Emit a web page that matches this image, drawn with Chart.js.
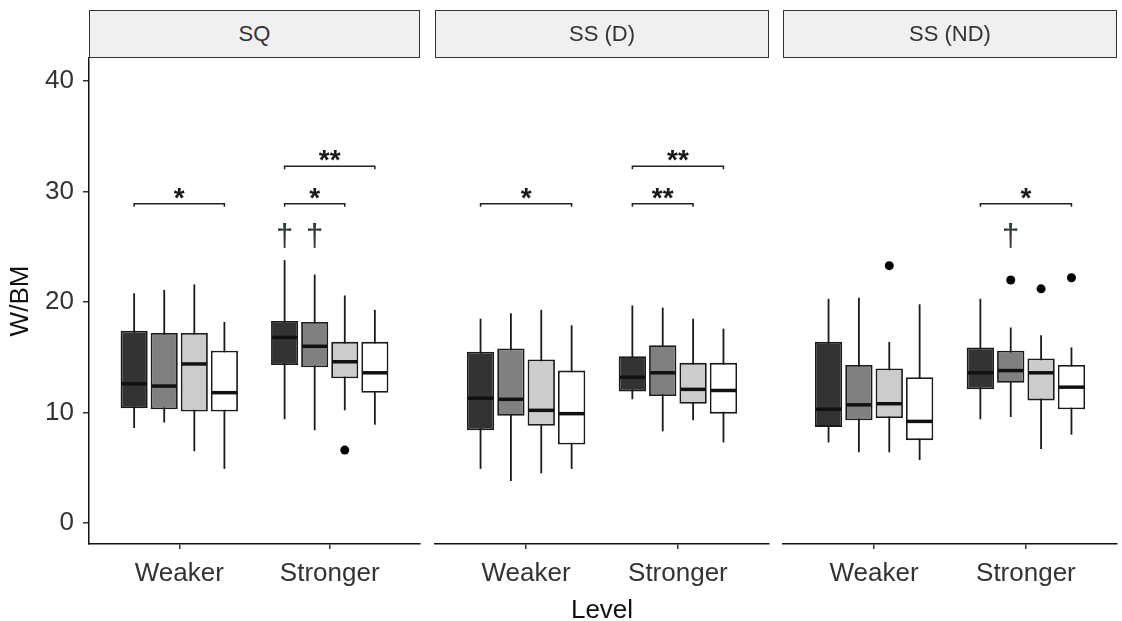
<!DOCTYPE html>
<html>
<head>
<meta charset="utf-8">
<script src="https://cdn.jsdelivr.net/npm/chart.js@4.4.1/dist/chart.umd.min.js"></script>
<style>
  body { margin: 0; background: #fff; }
  #wrap { position: relative; width: 1122px; height: 621px; overflow: hidden; }
  canvas { position: absolute; top: 0; }
  .strip {
    position: absolute; top: 10px; height: 48px; box-sizing: border-box;
    border: 1.5px solid #333; background: #f0f0f0; color: #333;
    font: 22px "Liberation Sans", Arial, sans-serif;
    display: flex; align-items: center; justify-content: center;
  }
  #xtitle {
    position: absolute; left: 435px; width: 334px; top: 596px; text-align: center;
    font: 26px/26px "Liberation Sans", Arial, sans-serif; color: #111;
  }
</style>
</head>
<body>
<div id="wrap">
  <canvas id="p0" width="430" height="621" style="left:0px"></canvas>
  <canvas id="p1" width="355" height="621" style="left:425px"></canvas>
  <canvas id="p2" width="347" height="621" style="left:775px"></canvas>
  <div class="strip" style="left:89px; width:331px">SQ</div>
  <div class="strip" style="left:435px; width:334px">SS (D)</div>
  <div class="strip" style="left:783px; width:334px">SS (ND)</div>
  <div id="xtitle">Level</div>
</div>
<script>
const levels = ['Weaker', 'Stronger'];
const yTicks = [0, 10, 20, 30, 40];
const fills = ['#333333', '#808080', '#cccccc', '#ffffff'];

// each row = one fill group, pair = [Weaker, Stronger]
const sqLow  = [[8.6, 9.4], [9.1, 8.4], [6.5, 10.2], [4.9, 8.9]];
const sqQ1   = [[10.4, 14.3], [10.3, 14.1], [10.1, 13.1], [10.1, 11.8]];
const sqMed  = [[12.6, 16.8], [12.4, 16.0], [14.4, 14.6], [11.8, 13.6]];
const sqQ3   = [[17.4, 18.3], [17.2, 18.2], [17.2, 16.4], [15.6, 16.4]];
const sqHigh = [[20.8, 23.8], [21.1, 22.5], [21.6, 20.6], [18.2, 19.3]];

const ssdLow  = [[4.9, 11.2], [3.8, 8.3], [4.5, 9.3], [4.9, 7.3]];
const ssdQ1   = [[8.4, 11.9], [9.7, 11.5], [8.8, 10.8], [7.1, 9.9]];
const ssdMed  = [[11.3, 13.2], [11.2, 13.6], [10.2, 12.1], [9.9, 12.0]];
const ssdQ3   = [[15.5, 15.1], [15.8, 16.1], [14.8, 14.5], [13.8, 14.5]];
const ssdHigh = [[18.5, 19.7], [19.0, 19.5], [19.3, 18.5], [17.9, 17.6]];

const ssndLow  = [[7.3, 9.4], [6.4, 9.6], [6.4, 6.7], [5.7, 8.0]];
const ssndQ1   = [[8.7, 12.1], [9.3, 12.7], [9.5, 11.1], [7.5, 10.3]];
const ssndMed  = [[10.3, 13.6], [10.7, 13.8], [10.8, 13.6], [9.2, 12.3]];
const ssndQ3   = [[16.4, 15.9], [14.3, 15.6], [14.0, 14.9], [13.2, 14.3]];
const ssndHigh = [[20.3, 20.3], [20.4, 17.7], [16.4, 17.0], [19.8, 15.9]];

// [group, level, value]
const sqOutliers = [[2, 1, 6.6]];
const ssdOutliers = [];
const ssndOutliers = [[2, 0, 23.3], [1, 1, 22.0], [2, 1, 21.2], [3, 1, 22.2]];

// [level, from group, to group, height, label]
const sqBrackets = [[0, 0, 3, 28.9, '*'], [1, 0, 2, 28.9, '*'], [1, 0, 3, 32.3, '**']];
const ssdBrackets = [[0, 0, 3, 28.9, '*'], [1, 0, 2, 28.9, '**'], [1, 0, 3, 32.3, '**']];
const ssndBrackets = [[1, 0, 3, 28.9, '*']];

// [level, group, height]
const sqDaggers = [[1, 0, 25.9], [1, 1, 25.9]];
const ssdDaggers = [];
const ssndDaggers = [[1, 1, 25.9]];

const FONT = '"Liberation Sans", Arial, sans-serif';

const panels = [
  { low: sqLow, q1: sqQ1, med: sqMed, q3: sqQ3, high: sqHigh, out: sqOutliers, br: sqBrackets, dag: sqDaggers },
  { low: ssdLow, q1: ssdQ1, med: ssdMed, q3: ssdQ3, high: ssdHigh, out: ssdOutliers, br: ssdBrackets, dag: ssdDaggers },
  { low: ssndLow, q1: ssndQ1, med: ssndMed, q3: ssndQ3, high: ssndHigh, out: ssndOutliers, br: ssndBrackets, dag: ssndDaggers }
];

function boxParts(p) {
  return {
    id: 'boxParts',
    beforeDatasetsDraw(chart) {
      const ctx = chart.ctx, y = chart.scales.y;
      ctx.save();
      ctx.strokeStyle = '#1a1a1a';
      ctx.lineWidth = 1.8;
      p.low.forEach((row, s) => {
        const bars = chart.getDatasetMeta(s).data;
        row.forEach((lo, j) => {
          ctx.beginPath();
          ctx.moveTo(bars[j].x, y.getPixelForValue(lo));
          ctx.lineTo(bars[j].x, y.getPixelForValue(p.high[s][j]));
          ctx.stroke();
        });
      });
      ctx.restore();
    },
    afterDatasetsDraw(chart) {
      const ctx = chart.ctx, y = chart.scales.y;
      ctx.save();
      // medians
      ctx.strokeStyle = '#111';
      ctx.lineWidth = 3.5;
      p.med.forEach((row, s) => {
        const bars = chart.getDatasetMeta(s).data;
        row.forEach((m, j) => {
          const py = y.getPixelForValue(m), half = bars[j].width / 2 - 1;
          ctx.beginPath();
          ctx.moveTo(bars[j].x - half, py);
          ctx.lineTo(bars[j].x + half, py);
          ctx.stroke();
        });
      });
      // outliers
      ctx.fillStyle = '#000';
      p.out.forEach(([s, j, v]) => {
        const b = chart.getDatasetMeta(s).data[j];
        ctx.beginPath();
        ctx.arc(b.x, y.getPixelForValue(v), 4.5, 0, Math.PI * 2);
        ctx.fill();
      });
      // significance brackets
      ctx.strokeStyle = '#222';
      ctx.lineWidth = 1.5;
      ctx.textAlign = 'center';
      ctx.textBaseline = 'alphabetic';
      ctx.font = 'bold 28px ' + FONT;
      p.br.forEach(([j, a, b, h, label]) => {
        const xa = chart.getDatasetMeta(a).data[j].x;
        const xb = chart.getDatasetMeta(b).data[j].x;
        const py = y.getPixelForValue(h);
        ctx.beginPath();
        ctx.moveTo(xa, py + 3);
        ctx.lineTo(xa, py);
        ctx.lineTo(xb, py);
        ctx.lineTo(xb, py + 3);
        ctx.stroke();
        ctx.fillStyle = '#1a1a1a';
        ctx.fillText(label, (xa + xb) / 2, py + 3);
      });
      // daggers
      ctx.font = '31px ' + FONT;
      ctx.fillStyle = '#2f3d33';
      p.dag.forEach(([j, s, h]) => {
        const b = chart.getDatasetMeta(s).data[j];
        ctx.fillText('\u2020', b.x, y.getPixelForValue(h) + 9);
      });
      ctx.restore();
    }
  };
}

function makePanel(id, idx, padding) {
  const p = panels[idx];
  const datasets = fills.map((c, s) => ({
    data: levels.map((l, j) => ({ x: j + 1, y: [p.q1[s][j], p.q3[s][j]] })),
    backgroundColor: c,
    borderColor: '#1a1a1a',
    borderWidth: 1.8,
    borderSkipped: false,
    barPercentage: 0.9,
    categoryPercentage: 0.8
  }));
  const first = idx === 0;
  new Chart(document.getElementById(id), {
    type: 'bar',
    data: { datasets },
    plugins: [boxParts(p)],
    options: {
      responsive: false,
      animation: false,
      layout: { padding },
      plugins: { legend: { display: false }, tooltip: { enabled: false } },
      scales: {
        x: {
          type: 'linear',
          min: 0.4, max: 2.6,
          offset: false,
          afterBuildTicks: s => { s.ticks = levels.map((l, j) => ({ value: j + 1 })); },
          afterFit: s => { s.height = 77; },
          border: { display: true, color: '#111', width: 1.5 },
          grid: { display: true, offset: false, drawOnChartArea: false, drawTicks: true, tickLength: 5, color: '#333', lineWidth: 1.5 },
          ticks: { callback: (v, i) => levels[i], font: { size: 26, family: FONT }, color: '#333', padding: 9, maxRotation: 0 }
        },
        y: {
          display: first,
          min: -1.9, max: 42.1,
          afterBuildTicks: s => { s.ticks = yTicks.map(v => ({ value: v })); },
          afterFit: s => { s.width = first ? 89 : 0; },
          border: { display: true, color: '#111', width: 1.5 },
          grid: { display: true, drawOnChartArea: false, drawTicks: true, tickLength: 6, color: '#333', lineWidth: 1.5 },
          ticks: { font: { size: 26, family: FONT }, color: '#333', padding: 9 },
          title: { display: true, text: 'W/BM', font: { size: 26, family: FONT }, color: '#111', padding: { top: 5, bottom: 0 } }
        }
      }
    }
  });
}

makePanel('p0', 0, { top: 58, right: 10, left: 0, bottom: 0 });
makePanel('p1', 1, { top: 58, right: 11, left: 10, bottom: 0 });
makePanel('p2', 2, { top: 58, right: 5, left: 8, bottom: 0 });
</script>
</body>
</html>
